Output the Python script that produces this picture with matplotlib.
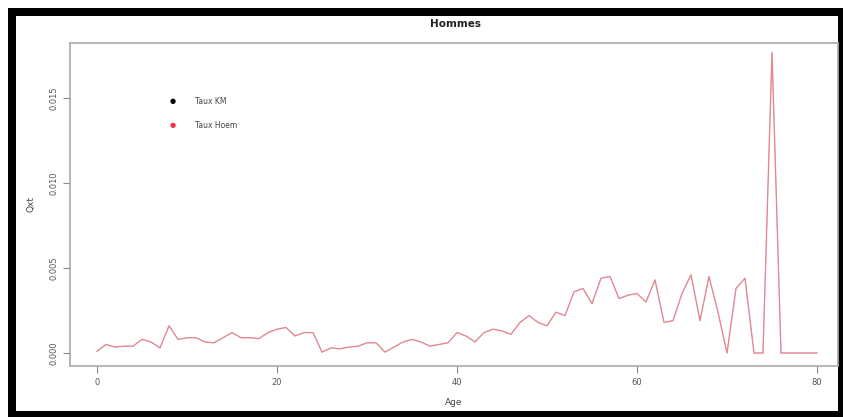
import matplotlib
matplotlib.use("Agg")
import matplotlib.pyplot as plt
from matplotlib.patches import Rectangle

# quotients de mortalite par age, hommes
ages = list(range(0, 81))
taux_hoem = [
    0.0001, 0.0005, 0.00035, 0.0004, 0.0004, 0.0008, 0.00065, 0.0003, 0.0016, 0.0008,
    0.0009, 0.0009, 0.00065, 0.0006, 0.0009, 0.0012, 0.0009, 0.0009, 0.00085, 0.0012,
    0.0014, 0.0015, 0.0010, 0.0012, 0.0012, 0.00005, 0.0003, 0.00025, 0.00035, 0.0004,
    0.0006, 0.0006, 0.00005, 0.00035, 0.00065, 0.0008, 0.00065, 0.0004, 0.0005, 0.0006,
    0.0012, 0.0010, 0.00065, 0.0012, 0.0014, 0.0013, 0.0011, 0.0018, 0.0022, 0.0018,
    0.0016, 0.0024, 0.0022, 0.0036, 0.0038, 0.0029, 0.0044, 0.0045, 0.0032, 0.0034,
    0.0035, 0.0030, 0.0043, 0.0018, 0.0019, 0.0035, 0.0046, 0.0019, 0.0045, 0.0024,
    0.0, 0.0038, 0.0044, 0.0, 0.0, 0.0177, 0.0, 0.0, 0.0, 0.0, 0.0,
]
taux_km = list(taux_hoem)

W, H = 843, 417
fig = plt.figure(figsize=(W / 100, H / 100), dpi=100)

# cadre noir autour du graphique
fig.add_artist(Rectangle((8 / W, 0), 835 / W, 1 - 8 / H, transform=fig.transFigure,
                         facecolor="black", edgecolor="none", zorder=0))
fig.add_artist(Rectangle((16 / W, 6 / H), 822 / W, 1 - 22 / H, transform=fig.transFigure,
                         facecolor="white", edgecolor="none", zorder=0))

left, right, top, bottom = 70, 838, 43, 366
ax = fig.add_axes([left / W, 1 - bottom / H, (right - left) / W, (bottom - top) / H])
ax.set_zorder(2)

ax.plot(ages, taux_km, color="#222222", lw=0.6, alpha=0.35)
ax.plot(ages, taux_hoem, color="#f07080", lw=1.0, alpha=0.7)

x0, x80 = 97, 817
ppu = (x80 - x0) / 80
ax.set_xlim((left - x0) / ppu, (right - x0) / ppu)
ypix = 85 / 0.005
ax.set_ylim(-(bottom - 353) / ypix, (353 - top) / ypix)

ax.set_xticks([0, 20, 40, 60, 80])
ax.set_yticks([0.0, 0.005, 0.010, 0.015])
ax.set_yticklabels(["0.000", "0.005", "0.010", "0.015"], rotation=90, va="center")
ax.tick_params(colors="#888888", labelcolor="#555555", labelsize=6, length=5, width=0.8)
for s in ax.spines.values():
    s.set_color("#aaaaaa")
    s.set_linewidth(1.2)

ax.set_xlabel("Age", fontsize=6.5, color="#444444", labelpad=8)
ax.set_ylabel("Qxt", fontsize=6.5, color="#444444", labelpad=10)
fig.text(455 / W, 1 - 24 / H, "Hommes", ha="center", va="center",
         fontsize=7.5, fontweight="bold", color="#222222")

# legende sans cadre
lx, ly = 173, [101, 125]
for y, lab, c in zip(ly, ["Taux KM", "Taux Hoem"], ["black", "#ee3344"]):
    fig.text(lx / W, 1 - y / H, "\u25cf", color=c, fontsize=5, ha="center", va="center")
    fig.text(195 / W, 1 - y / H, lab, color="#444444", fontsize=5.5, ha="left", va="center")

fig.savefig("out.png", dpi=100)
